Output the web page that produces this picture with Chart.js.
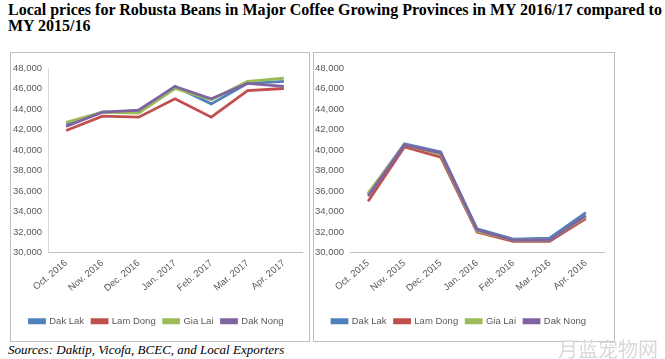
<!DOCTYPE html>
<html>
<head>
<meta charset="utf-8">
<script src="https://cdn.jsdelivr.net/npm/chart.js@4/dist/chart.umd.min.js"></script>
<style>
  html, body { margin: 0; padding: 0; background: #fff; }
  body { width: 665px; height: 359px; position: relative; overflow: hidden; }
  #title { position: absolute; left: 8px; top: 2px; width: 720px; font-family: 'Liberation Serif', 'Times New Roman', serif; font-weight: bold; font-size: 16px; line-height: 16px; color: #000; white-space: nowrap; }
  .box { position: absolute; top: 52px; height: 290px; border: 1px solid #BFBFBF; box-sizing: border-box; background: #fff; }
  .box canvas { position: absolute; left: 0; top: 0; }
  #src { position: absolute; left: 8px; top: 342px; font-family: 'Liberation Serif', 'Times New Roman', serif; font-style: italic; font-size: 13px; color: #000; }
  #wm { position: absolute; left: 558px; top: 334px; font-family: 'Noto Sans CJK SC', sans-serif; font-size: 20px; color: #d8d8d8; }
</style>
</head>
<body>
<div id="title">Local prices for Robusta Beans in Major Coffee Growing Provinces in MY 2016/17 compared to<br>MY 2015/16</div>
<div class="box" style="left:10px;width:300px;"><canvas id="c1" width="298" height="288"></canvas></div>
<div class="box" style="left:313px;width:302px;"><canvas id="c2" width="300" height="288"></canvas></div>
<div id="src">Sources: Daktip, Vicofa, BCEC, and Local Exporters</div>
<div id="wm">月蓝宠物网</div>
<script>
const seriesNames = ['Dak Lak', 'Lam Dong', 'Gia Lai', 'Dak Nong'];
const seriesColors = ['#4F81BD', '#C0504D', '#9BBB59', '#8064A2'];

const months1617 = ['Oct. 2016', 'Nov. 2016', 'Dec. 2016', 'Jan. 2017', 'Feb. 2017', 'Mar. 2017', 'Apr. 2017'];
const dakLak1617  = [42500, 43700, 43700, 46200, 44500, 46500, 46700];
const lamDong1617 = [41900, 43300, 43200, 45000, 43200, 45800, 46000];
const giaLai1617  = [42700, 43700, 43600, 46000, 44900, 46700, 47000];
const dakNong1617 = [42300, 43700, 43900, 46200, 45000, 46500, 46200];

const months1516 = ['Oct. 2015', 'Nov. 2015', 'Dec. 2015', 'Jan. 2016', 'Feb. 2016', 'Mar. 2016', 'Apr. 2016'];
const dakLak1516  = [35700, 40600, 39800, 32300, 31300, 31400, 33900];
const lamDong1516 = [35000, 40300, 39300, 32000, 31100, 31100, 33300];
const giaLai1516  = [35800, 40500, 39600, 32100, 31200, 31200, 33500];
const dakNong1516 = [35500, 40500, 39700, 32200, 31200, 31200, 33600];

const yMin = 30000, yMax = 48000, yStep = 2000;
const tickFont = { family: "'Liberation Sans Narrow', 'Arial Narrow', 'Liberation Sans', sans-serif", size: 9.5 };

function makeChart(id, labels, seriesList, yAxisLine, rightPad) {
  const datasets = seriesList.map((vals, i) => ({
    label: seriesNames[i],
    data: vals,
    borderColor: seriesColors[i],
    backgroundColor: seriesColors[i],
    borderWidth: 2.8,
    pointRadius: 0,
    tension: 0,
    order: seriesList.length - i
  }));
  return new Chart(document.getElementById(id), {
    type: 'line',
    data: { labels: labels, datasets: datasets },
    options: {
      responsive: false,
      animation: false,
      layout: { padding: { left: 0, right: rightPad, top: 15, bottom: 5 } },
      plugins: {
        legend: {
          position: 'bottom',
          labels: {
            boxWidth: 15, boxHeight: 3, font: tickFont, color: '#595959', padding: 8,
            sort: (a, b) => a.datasetIndex - b.datasetIndex
          }
        },
        tooltip: { enabled: false }
      },
      scales: {
        x: {
          offset: true,
          grid: { display: false, drawTicks: false },
          border: { display: true, color: '#BFBFBF', width: 1 },
          ticks: { font: tickFont, color: '#595959', maxRotation: 40, minRotation: 40, padding: 5, autoSkip: false },
          afterFit: s => { s.height = 56; }
        },
        y: {
          min: yMin, max: yMax,
          grid: { display: false, drawTicks: false },
          border: { display: yAxisLine, color: '#D9D9D9', width: 1 },
          ticks: {
            stepSize: yStep, font: tickFont, color: '#595959', padding: 6,
            callback: v => v.toLocaleString('en-US')
          },
          afterFit: s => { s.width = yAxisLine ? 37 : 36; }
        }
      }
    }
  });
}

makeChart('c1', months1617, [dakLak1617, lamDong1617, giaLai1617, dakNong1617], true, 7);
makeChart('c2', months1516, [dakLak1516, lamDong1516, giaLai1516, dakNong1516], false, 10);
</script>
</body>
</html>
